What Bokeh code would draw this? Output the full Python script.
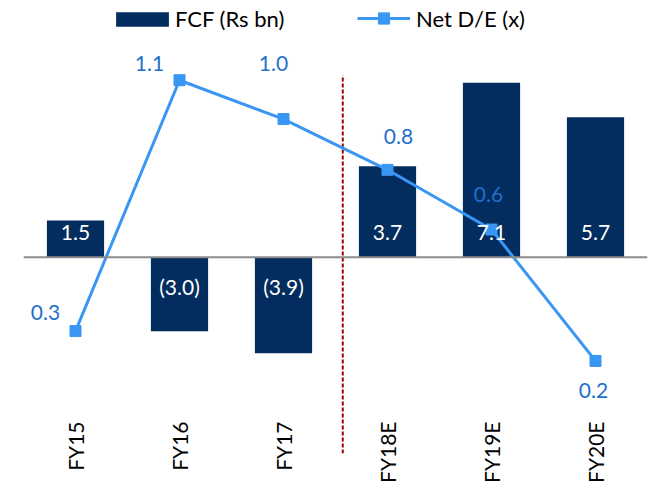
import numpy as np
from bokeh.plotting import figure
from bokeh.models import (Range1d, FactorRange, CategoricalAxis, Span, Legend,
                          LegendItem, ColumnDataSource)
from bokeh.core.properties import value
from bokeh.embed import file_html
from bokeh.resources import INLINE

# ---- data ----
categories = ["FY15", "FY16", "FY17", "FY18E", "FY19E", "FY20E"]
fcf = [1.5, -3.0, -3.9, 3.7, 7.1, 5.7]            # FCF (Rs bn)
net_de = [0.30, 1.14, 1.01, 0.84, 0.64, 0.20]      # Net D/E (x)

fcf_labels = [f"{v:.1f}" if v >= 0 else f"({abs(v):.1f})" for v in fcf]
de_labels = [f"{v:.1f}" for v in net_de]

# ---- styles ----
FONT = "Lato"
BAR_COLOR = "#032D5E"
LINE_COLOR = "#3A96F4"
LABEL_BLUE = "#1F6FCC"
# label offsets (pixels) for the D/E labels
de_dx = [-30, -30, -10, 11, -3, -2]
de_dy = [-19, -17, -56, -33, -35, 30]
bar_dy = [-25 if v >= 0 else 29 for v in fcf]
zero_base = [0] * len(fcf)

src = ColumnDataSource(dict(cat=categories, fcf=fcf, de=net_de,
                            fcf_lbl=fcf_labels, de_lbl=de_labels,
                            dx=de_dx, dy=de_dy, bdy=bar_dy, base=zero_base))

p = figure(x_range=FactorRange(*categories), y_range=Range1d(-7.976, 10.445),
           width=652, height=485, output_backend="svg", toolbar_location=None,
           x_axis_location=None, y_axis_location=None,
           min_border_left=23, min_border_right=5, min_border_top=0,
           min_border_bottom=30, outline_line_color=None)
p.grid.visible = False
p.extra_y_ranges = {"de": Range1d(-0.11, 1.407)}

bars = p.vbar(x="cat", top="fcf", width=0.55, source=src,
              fill_color=BAR_COLOR, line_color=None)

p.add_layout(Span(location=0, dimension="width", line_color="#8C8C8C",
                  line_width=2))

# divider between actuals and estimates
p.segment(x0=3.07, y0=-7.976, x1=3.07, y1=7.41, line_color="#A00000",
          line_width=2, line_dash="4 2")

ln = p.line(x="cat", y="de", source=src, y_range_name="de",
            line_color=LINE_COLOR, line_width=3)
sc = p.scatter(x="cat", y="de", source=src, y_range_name="de",
               marker="square", size=11, fill_color=LINE_COLOR,
               line_color=LINE_COLOR)

p.text(x="cat", y="base", source=src, text="fcf_lbl", y_offset="bdy",
       text_align="center", text_baseline="middle",
       text_font=value(FONT), text_font_size="21px", text_color="white")

p.text(x="cat", y="de", source=src, text="de_lbl", y_range_name="de",
       x_offset="dx", y_offset="dy", text_align="center",
       text_baseline="middle", text_font=value(FONT),
       text_font_size="21px", text_color=LABEL_BLUE)

xaxis = CategoricalAxis(axis_line_color=None,
                        major_tick_line_color=None,
                        minor_tick_line_color=None,
                        major_tick_out=0, major_tick_in=0,
                        major_label_orientation=np.pi / 2,
                        major_label_standoff=-32,
                        major_label_text_font=FONT,
                        major_label_text_font_size="21px",
                        major_label_text_color="black")
p.add_layout(xaxis, "below")

leg1 = Legend(items=[LegendItem(label="FCF (Rs bn)", renderers=[bars])],
              location=(86, 421), orientation="horizontal",
              glyph_width=66, glyph_height=18, padding=0, margin=0,
              spacing=0, label_standoff=-3, background_fill_alpha=0,
              border_line_color=None, label_text_font=FONT,
              label_text_font_size="22px", label_text_color="black")
leg2 = Legend(items=[LegendItem(label="Net D/E (x)", renderers=[ln, sc])],
              location=(334, 421), orientation="horizontal",
              glyph_width=53, glyph_height=28, padding=0, margin=0,
              spacing=0, label_standoff=6, background_fill_alpha=0,
              border_line_color=None, label_text_font=FONT,
              label_text_font_size="22px", label_text_color="black")
p.add_layout(leg1)
p.add_layout(leg2)

open("out.html", "w").write(file_html(p, INLINE))
